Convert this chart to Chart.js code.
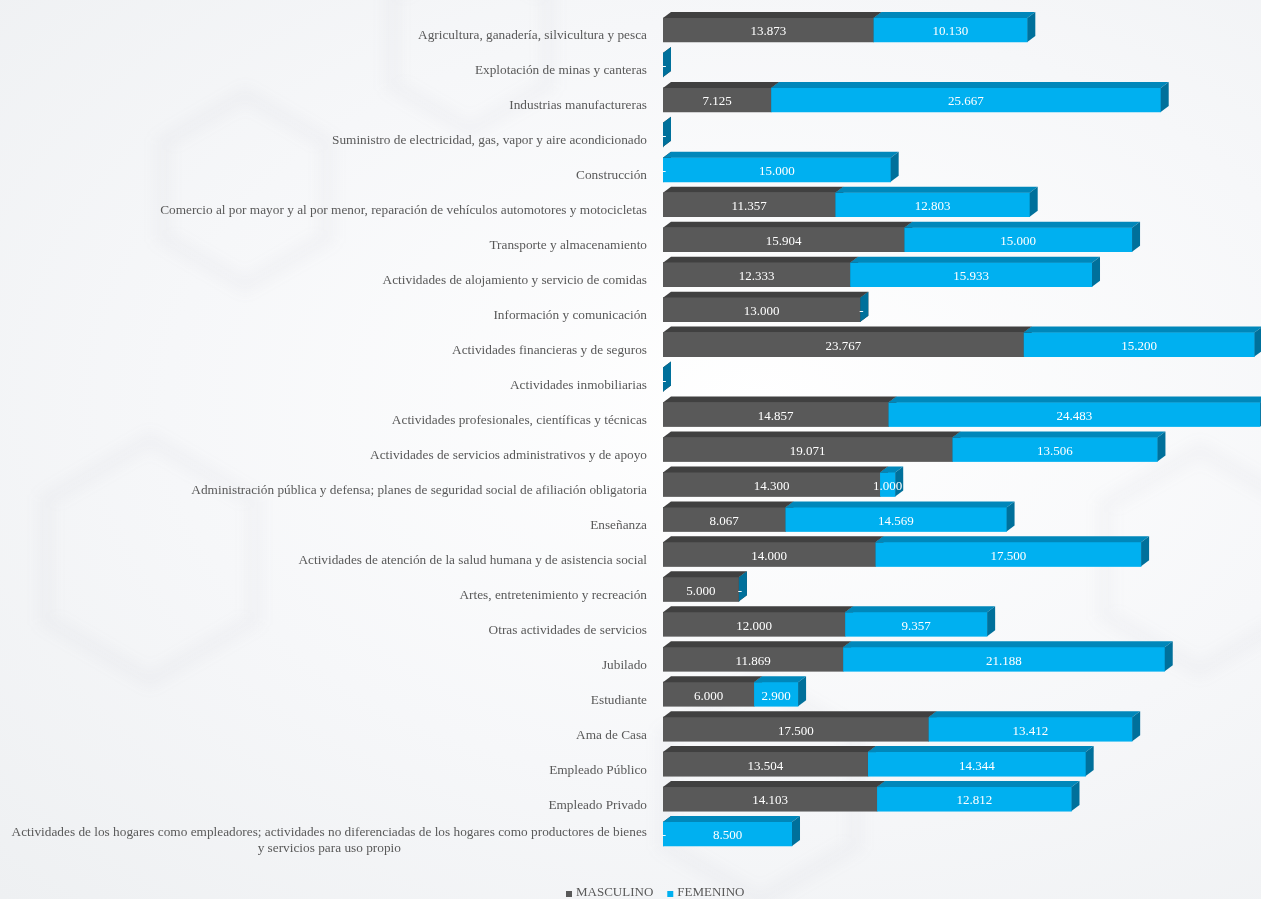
<!DOCTYPE html>
<html>
<head>
<meta charset="utf-8">
<script src="https://cdn.jsdelivr.net/npm/chart.js@4.4.1/dist/chart.umd.min.js"></script>
<style>
  html, body { margin: 0; padding: 0; background: #f5f6f8; }
  #wrap { width: 1261px; height: 899px; position: relative;
    background: radial-gradient(ellipse at 60% 45%, #ffffff 0%, #f6f7f9 55%, #eef0f2 100%); }
  canvas { display: block; }
</style>
</head>
<body>
<div id="wrap"><canvas id="chart" width="1261" height="899"></canvas></div>
<script>
const categories = [
    'Agricultura, ganadería, silvicultura y pesca',
    'Explotación de minas y canteras',
    'Industrias manufactureras',
    'Suministro de electricidad, gas, vapor y aire acondicionado',
    'Construcción',
    'Comercio al por mayor y al por menor, reparación de vehículos automotores y motocicletas',
    'Transporte y almacenamiento',
    'Actividades de alojamiento y servicio de comidas',
    'Información y comunicación',
    'Actividades financieras y de seguros',
    'Actividades inmobiliarias',
    'Actividades profesionales, científicas y técnicas',
    'Actividades de servicios administrativos y de apoyo',
    'Administración pública y defensa; planes de seguridad social de afiliación obligatoria',
    'Enseñanza',
    'Actividades de atención de la salud humana y de asistencia social',
    'Artes, entretenimiento y recreación',
    'Otras actividades de servicios',
    'Jubilado',
    'Estudiante',
    'Ama de Casa',
    'Empleado Público',
    'Empleado Privado',
    ['Actividades de los hogares como empleadores; actividades no diferenciadas de los hogares como productores de bienes',
     'y servicios para uso propio']
];
const masculino = [13873, 0, 7125, 0, 0, 11357, 15904, 12333, 13000, 23767, 0, 14857, 19071,
    14300, 8067, 14000, 5000, 12000, 11869, 6000, 17500, 13504, 14103, 0];
const femenino = [10130, 0, 25667, 0, 15000, 12803, 15000, 15933, 0, 15200, 0, 24483, 13506,
    1000, 14569, 17500, 0, 9357, 21188, 2900, 13412, 14344, 12812, 8500];
const seriesNames = ['MASCULINO', 'FEMENINO'];

const FONT = '"Liberation Serif", "DejaVu Serif", serif';
const TEXT = '#595959';
const DX = 8, DY = 6;
const faces = [
    {front: '#595959', top: '#404040', side: '#3a3a3a'},
    {front: '#00b0f0', top: '#0087ba', side: '#00709b'}
];

function formatNumber(num) {
    return num.toString().replace(/(\d)(?=(\d{3})+(?!\d))/g, '$1.');
}

// faint hexagon decoration in the background
const backdrop = {
    id: 'backdrop',
    beforeDraw(chart) {
        const ctx = chart.ctx;
        const hexes = [[245, 190, 95], [470, 40, 90], [1200, 560, 110], [150, 560, 120], [760, 790, 110]];
        ctx.save();
        ctx.filter = 'blur(7px)';
        ctx.strokeStyle = 'rgba(120,125,135,0.045)';
        ctx.lineWidth = 16;
        hexes.forEach(([cx, cy, r]) => {
            ctx.beginPath();
            for (let i = 0; i < 6; i++) {
                let a = Math.PI / 3 * i + Math.PI / 6;
                let px = cx + r * Math.cos(a), py = cy + r * Math.sin(a);
                i ? ctx.lineTo(px, py) : ctx.moveTo(px, py);
            }
            ctx.closePath();
            ctx.stroke();
        });
        ctx.restore();
    }
};

// bars are redrawn here as 3D boxes, series by series, so the later one sits on top
const bars3d = {
    id: 'bars3d',
    afterDatasetsDraw(chart) {
        const ctx = chart.ctx;
        ctx.save();
        chart.data.datasets.forEach((ds, di) => {
            const f = faces[di];
            chart.getDatasetMeta(di).data.forEach((bar) => {
                const p = bar.getProps(['x', 'y', 'base', 'height'], true);
                const y0 = p.y - p.height / 2, y1 = p.y + p.height / 2;
                const x0 = Math.min(p.x, p.base), x1 = Math.max(p.x, p.base);
                ctx.fillStyle = f.front;
                ctx.fillRect(x0, y0, x1 - x0, y1 - y0);
                ctx.fillStyle = f.top;
                ctx.beginPath();
                ctx.moveTo(x0, y0);
                ctx.lineTo(x0 + DX, y0 - DY);
                ctx.lineTo(x1 + DX, y0 - DY);
                ctx.lineTo(x1, y0);
                ctx.closePath();
                ctx.fill();
                ctx.fillStyle = f.side;
                ctx.beginPath();
                ctx.moveTo(x1, y0);
                ctx.lineTo(x1 + DX, y0 - DY);
                ctx.lineTo(x1 + DX, y1 - DY);
                ctx.lineTo(x1, y1);
                ctx.closePath();
                ctx.fill();
            });
        });
        // value labels
        ctx.font = '13px ' + FONT;
        ctx.fillStyle = '#ffffff';
        ctx.textAlign = 'center';
        ctx.textBaseline = 'middle';
        chart.data.datasets.forEach((ds, di) => {
            chart.getDatasetMeta(di).data.forEach((bar, i) => {
                const p = bar.getProps(['x', 'y', 'base'], true);
                const v = ds.data[i];
                const cx = (p.x + p.base) / 2;
                ctx.fillText(v ? formatNumber(v) : '-', v ? cx : cx + 1, p.y + 2);
            });
        });
        ctx.restore();
    }
};

// category labels and legend
const labelsAndLegend = {
    id: 'labelsAndLegend',
    afterDraw(chart) {
        const ctx = chart.ctx;
        const yScale = chart.scales.y;
        const right = chart.chartArea.left - 16;
        ctx.save();
        ctx.font = '13.3px ' + FONT;
        ctx.fillStyle = TEXT;
        ctx.textBaseline = 'middle';
        categories.forEach((c, i) => {
            const y = yScale.getPixelForValue(i) + 6;
            if (Array.isArray(c)) {
                const w = ctx.measureText(c[0]).width;
                const mid = right - w / 2;
                ctx.textAlign = 'center';
                ctx.fillText(c[0], mid, y - 8);
                ctx.fillText(c[1], mid, y + 8);
            } else {
                ctx.textAlign = 'right';
                ctx.fillText(c, right, y);
            }
        });
        // legend
        ctx.font = '13px ' + FONT;
        ctx.textAlign = 'left';
        const ly = 893;
        let lx = 566;
        seriesNames.forEach((name, i) => {
            ctx.fillStyle = faces[i].front;
            ctx.fillRect(lx, ly - 2, 6, 6);
            ctx.fillStyle = TEXT;
            ctx.fillText(name, lx + 10, ly);
            lx += 10 + ctx.measureText(name).width + 14;
        });
        ctx.restore();
    }
};

new Chart(document.getElementById('chart'), {
    type: 'bar',
    data: {
        labels: categories,
        datasets: [{
            label: seriesNames[0],
            data: masculino,
            backgroundColor: faces[0].front,
            barThickness: 24,
            borderWidth: 0
        }, {
            label: seriesNames[1],
            data: femenino,
            backgroundColor: faces[1].front,
            barThickness: 24,
            borderWidth: 0
        }]
    },
    options: {
        indexAxis: 'y',
        responsive: false,
        animation: false,
        devicePixelRatio: 1,
        layout: {padding: {left: 663, right: 0, top: 12.5, bottom: 47.5}},
        scales: {
            x: {stacked: true, display: false, min: 0, max: 39400},
            y: {stacked: true, display: false}
        },
        plugins: {
            legend: {display: false},
            tooltip: {enabled: false}
        }
    },
    plugins: [backdrop, bars3d, labelsAndLegend]
});
</script>
</body>
</html>
